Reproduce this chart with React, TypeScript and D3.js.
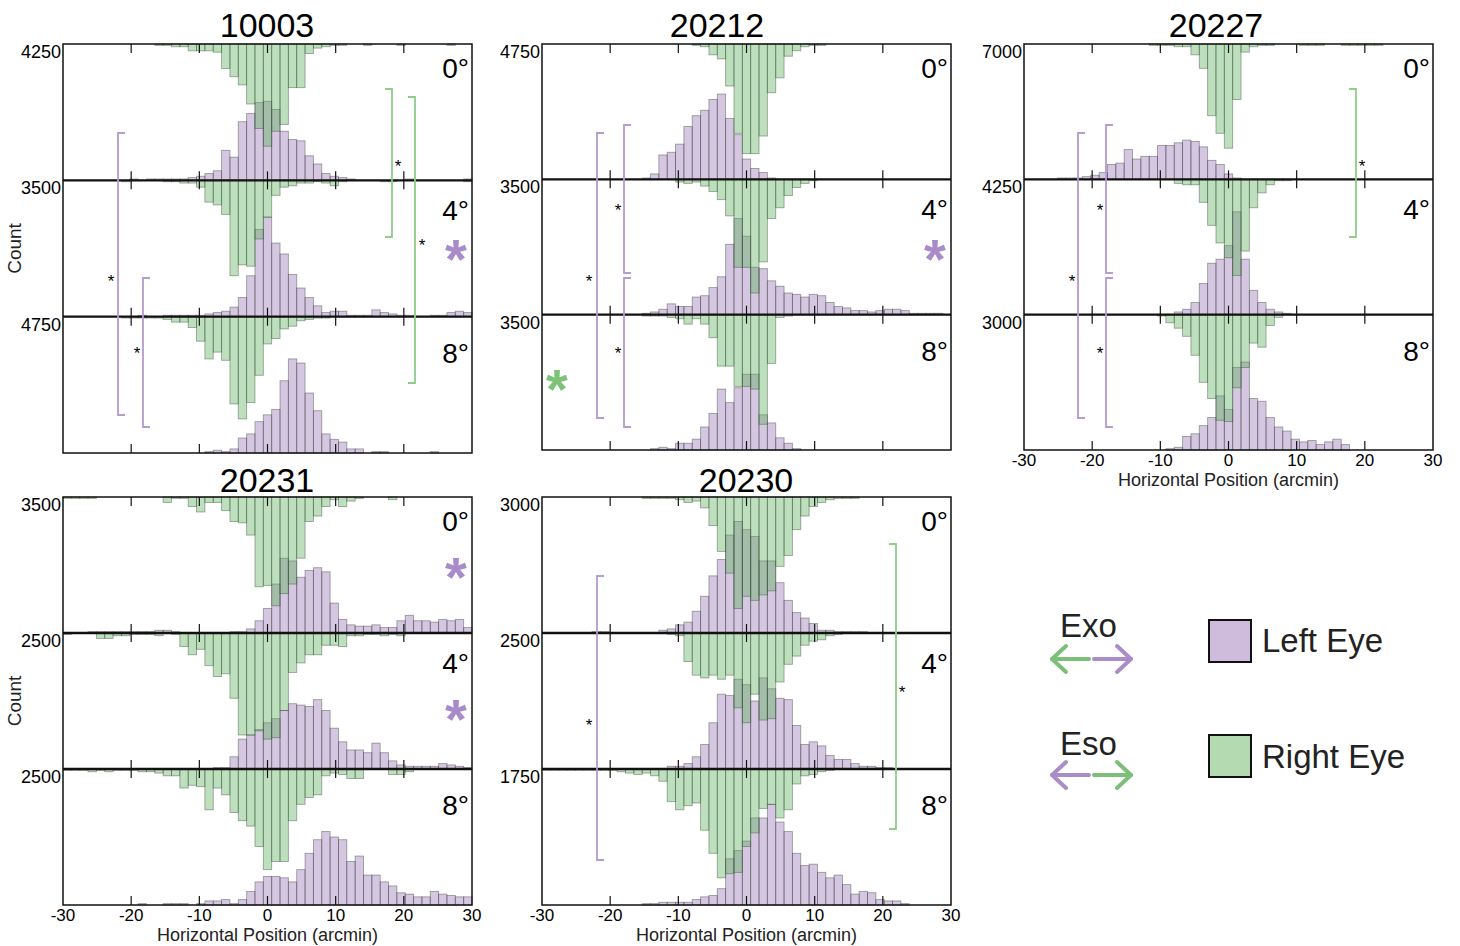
import React from 'react';
import * as d3 from 'd3';

// histogram bar heights, in % of each row's axis maximum
// 49 bins spanning -30..30 arcmin (bin 24 is centred on 0)
// R_ = right eye (hangs from the row top), L_ = left eye (rises from the row bottom)

const R_10003_0 = [0,0,0,0,0,0,0,0,0,0, 0,1,1,2,2,5,5,5,6,18, 24,30,44,62,75,64,59,32,32,7, 3,2,1,1,0,0,1,0,0,0, 1,0,0,0,0,0,1,0,0];
const L_10003_0 = [0,0,0,0,0,0,0,0,1,0, 1,1,1,1,1,2,3,5,7,22, 17,43,49,57,58,52,36,30,29,18, 12,5,3,2,1,0,0,0,0,0, 0,1,0,0,0,0,0,0,1];
const R_10003_4 = [0,0,0,0,0,0,0,1,0,0, 0,0,1,1,2,2,5,16,18,25, 70,62,63,43,27,11,5,4,2,2, 1,2,4,1,0,0,0,0,1,1, 0,0,0,0,0,0,0,0,1];
const L_10003_4 = [0,0,0,0,0,0,0,0,0,1, 0,0,1,1,1,1,1,2,3,4, 7,14,30,64,73,54,46,31,21,14, 8,3,4,4,1,1,1,5,3,2, 1,1,0,0,1,1,3,4,3];
const R_10003_8 = [0,0,0,0,0,0,0,1,1,1, 1,1,2,4,4,8,18,31,26,32, 64,75,63,43,20,16,9,7,3,2, 1,1,0,0,0,0,0,0,0,0, 0,0,0,0,0,0,0,0,0];
const L_10003_8 = [0,0,0,0,0,0,0,0,0,0, 0,0,0,0,0,0,0,1,2,1, 3,11,14,23,28,32,53,69,66,44, 31,14,10,8,3,3,0,1,1,0, 0,0,0,0,1,0,0,0,0];

const R_20212_0 = [0,0,0,0,0,0,0,0,0,0, 0,0,0,0,0,0,0,0,1,2, 8,11,31,66,81,81,68,36,25,9, 5,2,1,1,0,0,0,0,0,0, 0,0,0,0,0,0,0,0,0];
const L_20212_0 = [0,0,0,0,0,0,0,0,0,0, 0,0,1,4,18,20,26,39,47,51, 59,63,45,33,15,8,5,1,0,0, 0,0,0,0,0,0,0,0,0,0, 0,0,0,0,0,0,0,0,0];
const R_20212_4 = [0,0,0,0,0,0,0,0,0,0, 0,0,0,0,0,0,2,3,2,5, 9,15,27,65,65,84,61,29,21,12, 6,3,1,0,0,0,0,0,0,0, 0,0,0,0,0,0,0,0,0];
const L_20212_4 = [0,0,0,0,0,0,0,0,0,0, 0,0,1,2,4,8,6,6,13,14, 20,28,52,71,58,35,34,25,21,16, 15,13,15,14,9,6,5,3,3,2, 3,4,4,3,1,1,1,1,0];
const R_20212_8 = [0,0,0,0,0,0,0,0,0,0, 0,0,1,1,1,2,3,7,3,7, 17,38,38,53,53,55,81,36,2,1, 0,0,0,0,0,0,0,0,0,0, 0,0,0,0,0,0,0,0,0];
const L_20212_8 = [0,0,0,0,0,0,0,0,0,0, 0,0,0,1,2,1,5,5,8,17, 27,45,35,46,56,56,26,20,9,5, 1,0,0,0,0,0,0,0,0,0, 0,0,0,0,0,0,0,0,0];

const R_20227_0 = [0,0,0,0,0,0,0,0,0,0, 0,0,0,0,0,1,1,1,2,2, 8,18,53,66,77,41,6,2,1,1, 0,0,0,1,1,1,0,0,1,1, 1,1,1,0,0,0,0,0,0];
const L_20227_0 = [0,0,0,0,1,1,1,2,3,5, 11,12,22,15,17,17,25,25,27,29, 28,24,14,11,4,1,0,0,0,0, 0,0,0,0,0,0,0,0,0,0, 0,0,0,0,0,0,0,0,0];
const R_20227_4 = [0,0,0,0,0,0,0,0,0,0, 0,0,0,0,0,0,0,0,3,4, 4,17,34,47,58,71,53,21,10,4, 1,1,0,0,0,0,0,0,0,0, 0,0,0,0,0,0,0,0,0];
const L_20227_4 = [0,0,0,0,0,0,0,0,0,0, 0,0,0,0,0,0,0,0,2,4, 9,23,38,41,51,76,41,18,9,4, 2,1,0,0,0,0,0,0,0,0, 0,0,0,0,0,0,0,0,0];
const R_20227_8 = [0,0,0,0,0,0,0,0,0,0, 0,0,0,0,0,0,1,6,10,16, 30,50,62,78,79,54,39,21,24,8, 2,0,0,0,0,0,0,0,0,0, 0,0,0,0,0,0,0,0,0];
const L_20227_8 = [0,0,0,0,0,0,0,0,0,0, 0,0,0,0,0,0,0,1,2,10, 12,18,24,40,30,61,65,38,36,24, 17,14,8,6,7,4,6,8,4,0, 0,0,0,0,0,0,0,0,0];

const R_20231_0 = [1,1,1,1,0,0,0,0,0,0, 0,0,4,1,1,7,11,4,4,10, 18,19,28,66,65,80,71,64,45,18, 14,7,2,7,3,1,0,0,0,2, 0,0,0,0,0,0,0,0,0];
const L_20231_0 = [0,0,0,1,1,1,1,1,1,1, 1,2,2,1,0,0,0,0,0,0, 1,1,3,9,18,36,55,53,41,46, 48,45,22,10,6,5,5,6,4,4, 9,13,9,9,8,10,9,10,4];
const R_20231_4 = [1,0,0,0,4,4,2,2,1,1, 1,2,0,1,10,16,12,24,32,30, 48,75,75,72,78,77,57,29,22,16, 16,9,9,10,2,2,1,1,2,1, 2,0,0,0,0,0,0,0,0];
const L_20231_4 = [0,0,0,0,0,0,0,0,0,0, 0,0,0,0,0,0,0,0,1,1, 9,22,25,29,34,37,43,48,47,46, 51,43,30,20,14,14,12,19,12,6, 3,2,2,2,2,4,3,2,1];
const R_20231_8 = [1,1,1,2,1,2,1,1,1,2, 2,3,5,5,14,12,13,30,14,19, 32,38,42,57,74,68,68,38,26,21, 19,5,3,4,7,7,0,0,0,4, 4,2,0,0,0,0,0,0,0];
const L_20231_8 = [0,0,0,0,0,0,0,0,0,1, 0,0,1,1,1,0,1,3,3,4, 1,4,10,17,21,21,20,17,26,38, 48,54,50,48,32,36,22,22,17,14, 9,8,6,6,10,8,7,6,6];

const R_20230_0 = [0,0,0,0,0,0,0,0,0,0, 0,0,1,1,1,1,2,4,3,8, 21,40,56,82,73,76,72,69,51,43, 24,14,7,4,2,1,1,1,0,0, 0,0,0,0,0,0,0,0,0];
const L_20230_0 = [0,0,0,0,0,0,1,1,0,0, 0,0,0,0,2,3,6,8,16,27, 42,54,72,82,76,71,53,53,37,24, 15,11,7,2,2,1,1,1,1,0, 0,0,0,0,0,0,0,0,0];
const R_20230_4 = [0,0,0,0,0,0,0,0,0,0, 0,0,0,0,0,1,2,21,31,33, 31,34,31,55,66,45,64,63,36,23, 17,9,6,5,2,1,0,0,0,0, 0,0,0,0,0,0,0,0,0];
const L_20230_4 = [0,0,0,0,0,0,0,0,0,0, 0,0,0,0,0,2,2,4,9,18, 34,55,54,66,62,50,67,59,52,51, 32,18,20,17,10,7,7,4,2,2, 1,1,0,0,0,0,0,0,0];
const R_20230_8 = [1,1,1,1,1,1,1,1,1,2, 3,4,3,5,9,24,30,27,25,45, 62,80,77,76,57,47,29,26,36,30, 11,5,4,2,1,0,0,0,0,0, 0,0,0,0,0,0,0,0,0];
const L_20230_8 = [0,0,0,0,0,0,0,0,0,0, 0,0,1,1,2,2,2,2,4,6, 7,12,34,40,47,64,64,74,61,54, 38,29,30,24,20,22,15,8,10,9, 4,3,3,1,0,0,0,0,0];

const subjectIds = ['10003', '20212', '20227', '20231', '20230'];
const eccentricities = ['0°', '4°', '8°'];
const xTickValues = [-30, -20, -10, 0, 10, 20, 30];
const yMaxLabels = [
  ['4250', '3500', '4750'],
  ['4750', '3500', '3500'],
  ['7000', '4250', '3000'],
  ['3500', '2500', '2500'],
  ['3000', '2500', '1750'],
];

const rightEye = [
  [R_10003_0, R_10003_4, R_10003_8],
  [R_20212_0, R_20212_4, R_20212_8],
  [R_20227_0, R_20227_4, R_20227_8],
  [R_20231_0, R_20231_4, R_20231_8],
  [R_20230_0, R_20230_4, R_20230_8],
];
const leftEye = [
  [L_10003_0, L_10003_4, L_10003_8],
  [L_20212_0, L_20212_4, L_20212_8],
  [L_20227_0, L_20227_4, L_20227_8],
  [L_20231_0, L_20231_4, L_20231_8],
  [L_20230_0, L_20230_4, L_20230_8],
];

const BIN_COUNT = 49;
const X_MIN = -30;
const X_MAX = 30;

const PURPLE = 'rgb(150,115,180)';
const GREEN = 'rgb(90,175,90)';
const PURPLE_LINE = '#b49bd0';
const GREEN_LINE = '#8fcd8a';
const PURPLE_STAR = '#a88bc8';
const GREEN_STAR = '#7cc277';

// panel frames, in px
const layout = [
  { left: 63, right: 472, top: 44, bottom: 453, titleX: 267, titleY: 37, xLabels: false, count: true },
  { left: 542, right: 951, top: 44, bottom: 450, titleX: 717, titleY: 37, xLabels: false, count: false },
  { left: 1024, right: 1433, top: 44, bottom: 450, titleX: 1216, titleY: 37, xLabels: true, count: false },
  { left: 63, right: 472, top: 497, bottom: 905, titleX: 267, titleY: 492, xLabels: true, count: true },
  { left: 542, right: 951, top: 497, bottom: 905, titleX: 746, titleY: 492, xLabels: true, count: false },
];
const degreeOffsets = [34, 40, 46];

// significance brackets (dir: 1 = ends point right, -1 = ends point left)
const brackets = [
  { x: 118, y1: 133, y2: 415, dir: 1, color: PURPLE_LINE, sx: 111, sy: 278 },
  { x: 143, y1: 278, y2: 427, dir: 1, color: PURPLE_LINE, sx: 137, sy: 350 },
  { x: 392, y1: 89, y2: 237, dir: -1, color: GREEN_LINE, sx: 398, sy: 163 },
  { x: 415, y1: 97, y2: 383, dir: -1, color: GREEN_LINE, sx: 422, sy: 242 },
  { x: 597, y1: 133, y2: 418, dir: 1, color: PURPLE_LINE, sx: 589, sy: 278 },
  { x: 624, y1: 125, y2: 273, dir: 1, color: PURPLE_LINE, sx: 618, sy: 207 },
  { x: 624, y1: 278, y2: 427, dir: 1, color: PURPLE_LINE, sx: 618, sy: 350 },
  { x: 1356, y1: 89, y2: 237, dir: -1, color: GREEN_LINE, sx: 1362, sy: 163 },
  { x: 1078, y1: 133, y2: 418, dir: 1, color: PURPLE_LINE, sx: 1072, sy: 278 },
  { x: 1106, y1: 125, y2: 273, dir: 1, color: PURPLE_LINE, sx: 1100, sy: 207 },
  { x: 1106, y1: 278, y2: 427, dir: 1, color: PURPLE_LINE, sx: 1100, sy: 350 },
  { x: 597, y1: 576, y2: 860, dir: 1, color: PURPLE_LINE, sx: 589, sy: 722 },
  { x: 896, y1: 544, y2: 829, dir: -1, color: GREEN_LINE, sx: 902, sy: 689 },
];
const bigStars = [
  { x: 456, y: 250, color: PURPLE_STAR },
  { x: 935, y: 250, color: PURPLE_STAR },
  { x: 557, y: 380, color: GREEN_STAR },
  { x: 456, y: 568, color: PURPLE_STAR },
  { x: 456, y: 710, color: PURPLE_STAR },
];

const binEdges = d3.range(BIN_COUNT + 1).map((i) => X_MIN + (i * (X_MAX - X_MIN)) / BIN_COUNT);

function Panel({ p, pi }: { p: typeof layout[number]; pi: number }) {
  const x = d3.scaleLinear().domain([X_MIN, X_MAX]).range([p.left, p.right]);
  const rowH = (p.bottom - p.top) / 3;
  const h = d3.scaleLinear().domain([0, 100]).range([0, rowH]);
  const rows = [0, 1, 2];

  return (
    <g>
      <text x={p.titleX} y={p.titleY} textAnchor="middle" fontSize={34}>
        {subjectIds[pi]}
      </text>
      {rows.map((r) => {
        const top = p.top + r * rowH;
        const bot = top + rowH;
        return (
          <g key={'bars' + r}>
            {leftEye[pi][r].map((v, i) =>
              v > 0 ? (
                <rect
                  key={'l' + i}
                  x={x(binEdges[i])}
                  y={bot - h(v)}
                  width={x(binEdges[i + 1]) - x(binEdges[i])}
                  height={h(v)}
                  fill={PURPLE}
                  fillOpacity={0.4}
                  stroke="#3a3a3a"
                  strokeOpacity={0.45}
                  strokeWidth={0.9}
                />
              ) : null
            )}
            {rightEye[pi][r].map((v, i) =>
              v > 0 ? (
                <rect
                  key={'r' + i}
                  x={x(binEdges[i])}
                  y={top}
                  width={x(binEdges[i + 1]) - x(binEdges[i])}
                  height={h(v)}
                  fill={GREEN}
                  fillOpacity={0.4}
                  stroke="#2f4a2f"
                  strokeOpacity={0.45}
                  strokeWidth={0.9}
                />
              ) : null
            )}
          </g>
        );
      })}
      {rows.map((r) => {
        const top = p.top + r * rowH;
        const bot = top + rowH;
        return (
          <g key={'axis' + r}>
            {xTickValues.slice(1, -1).map((t) => (
              <g key={t}>
                <line x1={x(t)} x2={x(t)} y1={top} y2={top + 9} stroke="#111" strokeWidth={1.2} />
                <line x1={x(t)} x2={x(t)} y1={bot - 9} y2={bot} stroke="#111" strokeWidth={1.2} />
              </g>
            ))}
            <text x={p.left - 2} y={top + 14} textAnchor="end" fontSize={18}>
              {yMaxLabels[pi][r]}
            </text>
            <text x={p.right - 3} y={top + degreeOffsets[r]} textAnchor="end" fontSize={28}>
              {eccentricities[r]}
            </text>
            {r > 0 && <line x1={p.left} x2={p.right} y1={top} y2={top} stroke="#111" strokeWidth={2.4} />}
          </g>
        );
      })}
      <rect
        x={p.left}
        y={p.top}
        width={p.right - p.left}
        height={p.bottom - p.top}
        fill="none"
        stroke="#111"
        strokeWidth={1.5}
      />
      {p.xLabels && (
        <g>
          {xTickValues.map((t) => (
            <text key={t} x={x(t)} y={p.bottom + 16} textAnchor="middle" fontSize={17}>
              {t}
            </text>
          ))}
          <text x={(p.left + p.right) / 2} y={p.bottom + 36} textAnchor="middle" fontSize={18} fill="#222">
            Horizontal Position (arcmin)
          </text>
        </g>
      )}
      {p.count && (
        <text
          transform={`translate(21,${(p.top + p.bottom) / 2}) rotate(-90)`}
          textAnchor="middle"
          fontSize={19}
          fill="#222"
        >
          Count
        </text>
      )}
    </g>
  );
}

function Arrow({ x1, x2, y, color }: { x1: number; x2: number; y: number; color: string }) {
  const d = x2 > x1 ? -1 : 1;
  return (
    <g stroke={color} strokeWidth={4} fill="none" strokeLinecap="round" strokeLinejoin="round">
      <line x1={x1} x2={x2} y1={y} y2={y} />
      <polyline points={`${x2 + d * 14},${y - 13} ${x2},${y} ${x2 + d * 14},${y + 13}`} />
    </g>
  );
}

export default function App() {
  return (
    <svg
      width={1460}
      height={946}
      style={{ position: 'absolute', left: 0, top: 0, background: '#fff' }}
      fontFamily="'Liberation Sans', Arial, sans-serif"
    >
      <rect x={0} y={0} width={1460} height={946} fill="#fff" />
      {layout.map((p, pi) => (
        <Panel key={pi} p={p} pi={pi} />
      ))}

      {brackets.map((b, i) => (
        <g key={'b' + i}>
          <polyline
            points={`${b.x + b.dir * 7},${b.y1} ${b.x},${b.y1} ${b.x},${b.y2} ${b.x + b.dir * 7},${b.y2}`}
            fill="none"
            stroke={b.color}
            strokeWidth={1.8}
          />
          <text x={b.sx} y={b.sy + 9} textAnchor="middle" fontSize={17}>
            *
          </text>
        </g>
      ))}
      {bigStars.map((s, i) => (
        <text key={'s' + i} x={s.x} y={s.y + 28} textAnchor="middle" fontSize={56} fontWeight="bold" fill={s.color}>
          *
        </text>
      ))}

      <g fill="#222" fontSize={33}>
        <text x={1060} y={637}>Exo</text>
        <text x={1060} y={755}>Eso</text>
        <text x={1262} y={652}>Left Eye</text>
        <text x={1262} y={768}>Right Eye</text>
      </g>
      <Arrow x1={1089} x2={1052} y={659} color="#7dbe78" />
      <Arrow x1={1094} x2={1131} y={659} color="#aa8cc8" />
      <Arrow x1={1089} x2={1052} y={775} color="#aa8cc8" />
      <Arrow x1={1094} x2={1131} y={775} color="#7dbe78" />
      <rect x={1209} y={620} width={42} height={42} fill="#cfbcdc" stroke="#111" strokeWidth={2} />
      <rect x={1209} y={735} width={42} height={42} fill="#b3dab1" stroke="#111" strokeWidth={2} />
    </svg>
  );
}
